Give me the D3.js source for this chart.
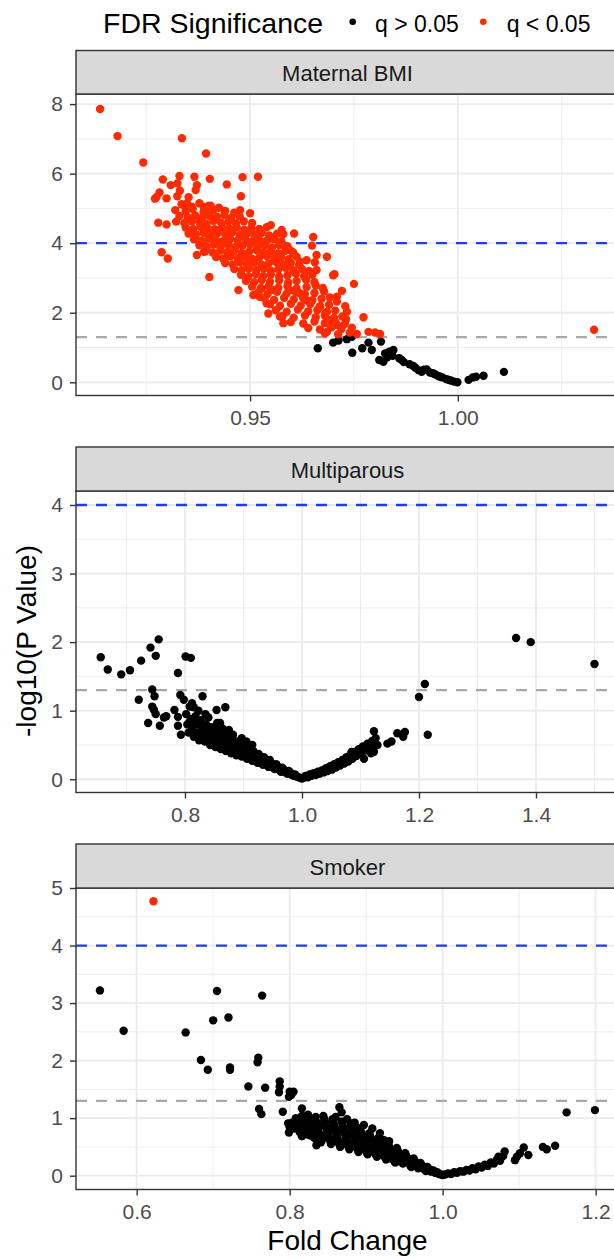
<!DOCTYPE html>
<html><head><meta charset="utf-8">
<script src="https://cdn.jsdelivr.net/npm/d3@7"></script>
<style>body{margin:0;background:#fff}svg{display:block}text{font-family:"Liberation Sans",Arial,Helvetica,sans-serif}</style>
</head><body><svg id="c" width="614" height="1259"></svg>
<script>
// ---------------- DATA ----------------
const facetNames = ["Maternal BMI", "Multiparous", "Smoker"];
const legendTitle = "FDR Significance";
const legendLabels = ["q > 0.05", "q < 0.05"];
const xTitle = "Fold Change";
const yTitle = "-log10(P Value)";
const thresholdBlue = 4;
const thresholdGrey = 1.3;

const bmiXTicks = [0.95, 1.00];
const bmiXMinor = [0.925, 0.975, 1.025];
const bmiYTicks = [0, 2, 4, 6, 8];
const bmiYMinor = [1, 3, 5, 7];
const multiXTicks = [0.8, 1.0, 1.2, 1.4];
const multiXMinor = [0.7, 0.9, 1.1, 1.3, 1.5];
const multiYTicks = [0, 1, 2, 3, 4];
const multiYMinor = [0.5, 1.5, 2.5, 3.5];
const smokeXTicks = [0.6, 0.8, 1.0, 1.2];
const smokeXMinor = [0.7, 0.9, 1.1];
const smokeYTicks = [0, 1, 2, 3, 4, 5];
const smokeYMinor = [0.5, 1.5, 2.5, 3.5, 4.5];

const bmiRed = [
[0.9139,7.86],[0.9181,7.08],[0.9336,7.02],[0.9243,6.32],[0.9394,6.58],
[0.9290,5.83],[0.9330,5.93],[0.9366,5.91],[0.9403,5.85],[0.9482,5.90],[0.9519,5.91],[0.9444,5.69],
[0.9309,5.67],[0.9325,5.72],[0.9372,5.67],[0.9369,5.53],[0.9282,5.46],[0.9275,5.33],[0.9271,5.28],[0.9299,5.29],
[0.9331,5.51],[0.9325,5.35],[0.9352,5.32],[0.9478,5.35],[0.9476,4.95],[0.9500,4.86],
[0.9341,5.09],[0.9360,5.05],[0.9348,5.14],[0.9388,5.05],[0.9400,5.07],[0.9393,4.92],
[0.9279,4.59],[0.9299,4.54],[0.9287,3.74],[0.9302,3.56],[0.9372,3.66],[0.9389,3.75],[0.9402,3.03],
[0.9550,4.52],[0.9551,4.14],[0.9576,4.38],[0.9580,4.26],[0.9606,4.28],[0.9652,4.18],[0.9649,3.93],
[0.9660,3.66],[0.9656,3.45],[0.9660,3.23],[0.9685,3.61],[0.9703,3.11],[0.9700,3.08],
[0.9620,3.47],[0.9636,3.51],[0.9604,3.71],[0.9596,3.80],[0.9580,3.95],
[0.9750,2.83],[0.9721,2.63],[0.9709,2.46],[0.9709,2.32],[0.9729,2.19],[0.9733,2.03],[0.9731,1.81],[0.9710,1.65],
[0.9773,1.87],[0.9757,1.39],[0.9785,1.45],[0.9801,1.43],[0.9813,1.39],
[0.9685,1.45],[0.9697,1.60],[0.9689,1.79],[0.9681,1.98],[0.9669,2.17],
[0.9472,2.65],[0.9508,2.51],[0.9523,2.46],[0.9540,2.27],[0.9544,1.98],[0.9572,1.89],[0.9580,1.70],
[0.9528,2.70],[0.9556,2.65],[0.9596,2.65],[0.9620,2.56],[0.9636,2.36],
[0.9335,5.12],[0.9352,5.06],[0.9378,5.15],[0.9405,5.08],[0.9425,5.02],
[0.9320,4.95],[0.9345,4.92],[0.9362,4.98],[0.9388,4.90],[0.9412,4.96],[0.9440,4.93],[0.9462,4.88],
[0.9330,4.78],[0.9350,4.75],[0.9368,4.80],[0.9385,4.74],[0.9402,4.79],[0.9420,4.76],[0.9438,4.81],[0.9455,4.73],[0.9475,4.77],
[0.9322,4.62],[0.9342,4.58],[0.9360,4.63],[0.9378,4.60],[0.9395,4.56],[0.9412,4.64],[0.9430,4.59],[0.9448,4.62],[0.9466,4.57],[0.9485,4.63],[0.9505,4.58],
[0.9345,4.45],[0.9363,4.41],[0.9381,4.47],[0.9398,4.43],[0.9415,4.40],[0.9433,4.46],[0.9450,4.42],[0.9468,4.45],[0.9486,4.39],[0.9503,4.44],[0.9522,4.41],[0.9540,4.46],
[0.9352,4.28],[0.9370,4.25],[0.9388,4.30],[0.9405,4.24],[0.9422,4.29],[0.9440,4.26],[0.9457,4.31],[0.9475,4.23],[0.9492,4.28],[0.9510,4.25],[0.9528,4.30],[0.9546,4.22],[0.9565,4.27],
[0.9365,4.11],[0.9383,4.07],[0.9400,4.13],[0.9418,4.09],[0.9435,4.06],[0.9452,4.12],[0.9470,4.08],[0.9488,4.14],[0.9505,4.05],[0.9522,4.10],[0.9540,4.07],[0.9558,4.12],[0.9575,4.06],
[0.9378,3.94],[0.9396,3.90],[0.9413,3.96],[0.9430,3.91],[0.9448,3.95],[0.9465,3.89],[0.9482,3.93],[0.9500,3.97],[0.9518,3.90],[0.9535,3.94],[0.9553,3.88],[0.9570,3.95],[0.9590,3.91],
[0.9392,3.77],[0.9410,3.73],[0.9428,3.79],[0.9445,3.74],[0.9462,3.78],[0.9480,3.72],[0.9498,3.76],[0.9515,3.80],[0.9532,3.73],[0.9550,3.77],[0.9568,3.71],[0.9585,3.78],[0.9603,3.74],
[0.9418,3.60],[0.9435,3.56],[0.9452,3.62],[0.9470,3.57],[0.9488,3.61],[0.9505,3.55],[0.9522,3.59],[0.9540,3.63],[0.9558,3.56],[0.9575,3.60],[0.9593,3.54],[0.9612,3.61],
[0.9440,3.43],[0.9458,3.39],[0.9475,3.45],[0.9492,3.40],[0.9510,3.44],[0.9528,3.38],[0.9545,3.42],[0.9563,3.46],[0.9580,3.39],[0.9598,3.43],[0.9618,3.37],
[0.9462,3.26],[0.9480,3.22],[0.9497,3.28],[0.9515,3.23],[0.9533,3.27],[0.9550,3.21],[0.9568,3.25],[0.9586,3.29],[0.9604,3.22],[0.9625,3.26],[0.9642,3.20],
[0.9478,3.09],[0.9496,3.05],[0.9514,3.11],[0.9532,3.06],[0.9550,3.10],[0.9570,3.04],[0.9590,3.08],[0.9610,3.12],[0.9630,3.05],[0.9650,3.09],
[0.9490,2.92],[0.9510,2.88],[0.9528,2.94],[0.9548,2.89],[0.9570,2.93],[0.9592,2.87],[0.9612,2.91],[0.9635,2.95],[0.9655,2.88],
[0.9505,2.75],[0.9526,2.71],[0.9545,2.77],[0.9568,2.72],[0.9590,2.76],[0.9612,2.70],[0.9636,2.74],[0.9658,2.78],[0.9675,2.71],
[0.9520,2.58],[0.9542,2.54],[0.9565,2.60],[0.9588,2.55],[0.9610,2.59],[0.9632,2.53],[0.9655,2.57],[0.9678,2.61],
[0.9535,2.41],[0.9558,2.37],[0.9582,2.43],[0.9605,2.38],[0.9628,2.42],[0.9650,2.36],[0.9672,2.40],[0.9692,2.44],
[0.9548,2.24],[0.9572,2.20],[0.9598,2.26],[0.9622,2.21],[0.9645,2.25],[0.9668,2.19],[0.9690,2.23],
[0.9562,2.07],[0.9588,2.03],[0.9615,2.09],[0.9640,2.04],[0.9662,2.08],[0.9685,2.02],[0.9705,2.06],
[0.9578,1.90],[0.9605,1.86],[0.9632,1.92],[0.9658,1.87],[0.9680,1.91],[0.9702,1.85],[0.9722,1.89],
[0.9598,1.73],[0.9628,1.69],[0.9655,1.75],[0.9680,1.70],[0.9705,1.74],[0.9728,1.68],
[0.9640,1.56],[0.9668,1.52],[0.9695,1.58],[0.9720,1.53],[0.9745,1.57],
[0.9680,1.41],[0.9712,1.38],[0.9740,1.43],
[1.0328,1.51]
];
const bmiBlack = [
[0.9663,0.98],[0.9700,1.14],[0.9713,1.20],[0.9733,1.24],[0.9745,1.31],[0.9746,0.85],[0.9770,0.98],
[0.9785,1.14],[0.9793,0.93],[0.9815,1.17],[0.9811,0.64],[0.9821,0.59],[0.9825,0.83],[0.9835,0.88],
[0.9845,0.93],[0.9843,0.76],[0.9859,0.69],[0.9865,0.64],[0.9884,0.52],[0.9893,0.47],[0.9905,0.35],
[0.9913,0.30],[0.9925,0.37],[0.9933,0.28],[0.9945,0.23],[0.9953,0.18],[0.9963,0.14],[0.9973,0.09],
[0.9983,0.05],[0.9991,0.02],[0.9999,0.00],[1.0026,0.07],[1.0036,0.14],[1.0044,0.16],[1.0062,0.19],
[1.0111,0.30],[0.9830,0.72],[0.9870,0.58],[0.9898,0.42],[0.9918,0.36],[0.9940,0.26],[0.9958,0.16],[0.9978,0.07]
];

const multiBlack = [
[0.656,1.78],[0.668,1.60],[0.691,1.53],[0.706,1.59],[0.725,1.73],[0.741,1.92],[0.750,1.80],[0.755,2.04],
[0.788,1.55],[0.801,1.79],[0.810,1.77],[0.744,1.31],[0.748,1.21],[0.721,1.16],[0.737,0.82],
[0.744,1.06],[0.747,1.01],[0.750,0.95],[0.757,0.78],[0.764,0.90],[0.768,0.92],
[0.792,1.23],[0.798,1.16],[0.812,1.11],[0.808,1.06],[0.830,1.21],[0.854,1.01],[0.869,1.05],
[0.782,1.01],[0.788,0.91],[0.793,0.65],[0.788,0.78],[0.855,0.82],[0.864,0.74],[0.897,0.60],
[0.802,0.95],[0.804,0.80],[0.806,0.68],[0.810,0.88],[0.812,0.74],[0.815,0.62],[0.818,0.92],[0.820,0.80],
[0.822,0.68],[0.824,0.57],[0.827,0.86],[0.829,0.74],[0.831,0.63],[0.834,0.55],[0.836,0.80],[0.838,0.70],
[0.840,0.60],[0.843,0.50],[0.845,0.76],[0.847,0.66],[0.849,0.56],[0.852,0.47],[0.854,0.72],[0.856,0.62],
[0.858,0.53],[0.861,0.44],[0.863,0.68],[0.865,0.58],[0.867,0.49],[0.870,0.41],[0.872,0.63],[0.874,0.54],
[0.876,0.46],[0.879,0.38],[0.881,0.59],[0.883,0.50],[0.885,0.43],[0.888,0.35],[0.890,0.55],[0.892,0.47],
[0.894,0.40],[0.897,0.33],[0.899,0.50],[0.901,0.43],[0.903,0.36],[0.906,0.30],[0.908,0.46],[0.910,0.39],
[0.912,0.33],[0.915,0.27],[0.917,0.41],[0.919,0.35],[0.921,0.29],[0.924,0.24],[0.926,0.37],[0.928,0.31],
[0.930,0.26],[0.933,0.21],[0.935,0.32],[0.937,0.27],[0.940,0.22],[0.943,0.18],[0.945,0.28],[0.948,0.23],
[0.950,0.18],[0.953,0.15],[0.956,0.22],[0.958,0.18],[0.961,0.14],[0.964,0.11],[0.966,0.17],[0.969,0.13],
[0.972,0.10],[0.975,0.08],[0.977,0.12],[0.980,0.09],[0.983,0.06],[0.986,0.05],[0.988,0.07],[0.991,0.04],
[0.994,0.03],[0.997,0.02],[1.000,0.01],
[0.808,0.84],[0.813,0.70],[0.819,0.86],[0.823,0.62],[0.828,0.80],[0.833,0.58],[0.837,0.75],[0.842,0.55],
[0.846,0.71],[0.851,0.52],[0.855,0.67],[0.860,0.49],[0.864,0.63],[0.869,0.45],[0.873,0.58],[0.878,0.42],
[0.882,0.54],[0.887,0.39],[0.891,0.51],[0.896,0.36],[0.900,0.46],[0.905,0.33],[0.909,0.42],[0.914,0.30],
[0.918,0.38],[0.923,0.26],[0.927,0.34],[0.932,0.23],[0.936,0.29],[0.941,0.20],[0.946,0.25],[0.952,0.17],
[0.957,0.20],[0.963,0.13],[0.968,0.15],[0.974,0.10],[0.979,0.11],[0.985,0.07],
[0.860,0.82],[0.875,0.72],[0.882,0.65],[0.905,0.55],[0.915,0.50],[0.840,0.90],[0.835,0.95],[0.823,1.00],[0.815,1.05],
[1.003,0.02],[1.006,0.05],[1.010,0.03],[1.013,0.07],[1.016,0.05],[1.020,0.09],[1.023,0.06],[1.027,0.11],
[1.030,0.08],[1.034,0.13],[1.037,0.10],[1.041,0.16],[1.044,0.12],[1.048,0.19],[1.051,0.14],[1.055,0.22],
[1.058,0.17],[1.062,0.25],[1.065,0.20],[1.069,0.28],[1.072,0.23],[1.076,0.32],[1.079,0.26],[1.083,0.36],
[1.086,0.30],[1.090,0.40],[1.093,0.34],[1.097,0.44],[1.100,0.38],[1.104,0.48],[1.108,0.42],[1.112,0.52],
[1.116,0.46],[1.120,0.56],[1.124,0.50],[1.085,0.40],[1.106,0.30],[1.118,0.38],
[1.018,0.07],[1.032,0.11],[1.046,0.15],[1.060,0.21],[1.074,0.27],[1.088,0.35],[1.102,0.43],[1.114,0.49],
[1.123,0.70],[1.126,0.60],[1.129,0.50],[1.123,0.40],[1.146,0.52],[1.153,0.55],[1.163,0.67],[1.176,0.69],[1.173,0.62],
[1.200,1.20],[1.210,1.39],[1.215,0.65],[1.366,2.06],[1.391,2.00],[1.500,1.68]
];

const smokeRed = [[0.622,4.77]];
const smokeBlack = [
[0.552,3.22],[0.583,2.52],[0.664,2.49],[0.684,2.01],[0.693,1.84],[0.700,2.70],[0.705,3.21],[0.720,2.75],
[0.722,1.88],[0.722,1.84],[0.746,1.55],[0.764,3.13],[0.759,2.05],[0.758,1.97],[0.768,1.53],[0.760,1.16],
[0.763,1.07],[0.787,1.64],[0.787,1.55],[0.786,1.45],[0.800,1.46],[0.802,1.40],[0.805,1.46],[0.799,1.37],
[0.791,1.11],[0.798,0.91],[0.799,0.75],[0.816,1.17],[0.818,1.03],[0.816,0.69],[0.824,0.74],[0.835,0.53],
[0.865,1.19],[0.868,1.10],[0.923,0.62],[0.881,0.91],[0.891,0.82],
[0.803,0.92],[0.806,0.82],[0.808,1.00],[0.811,0.88],[0.813,0.76],[0.816,1.04],[0.818,0.94],[0.820,0.84],
[0.822,0.72],[0.824,1.06],[0.826,0.96],[0.828,0.86],[0.830,0.76],[0.832,0.66],[0.834,1.02],[0.836,0.92],
[0.838,0.82],[0.840,0.72],[0.842,0.62],[0.844,1.04],[0.846,0.94],[0.848,0.84],[0.850,0.74],[0.852,0.64],
[0.854,0.55],[0.856,0.98],[0.858,0.88],[0.860,0.78],[0.862,0.68],[0.864,0.58],[0.866,0.50],[0.868,0.94],
[0.870,0.84],[0.872,0.74],[0.874,0.64],[0.876,0.54],[0.878,0.46],[0.880,0.88],[0.882,0.78],[0.884,0.68],
[0.886,0.58],[0.888,0.49],[0.890,0.41],[0.892,0.82],[0.894,0.72],[0.896,0.62],[0.898,0.53],[0.900,0.44],
[0.902,0.37],[0.904,0.74],[0.906,0.65],[0.908,0.56],[0.910,0.47],[0.912,0.39],[0.914,0.33],[0.916,0.66],
[0.918,0.57],[0.920,0.49],[0.922,0.41],[0.924,0.34],[0.926,0.28],[0.928,0.58],[0.930,0.50],[0.932,0.42],
[0.934,0.35],[0.936,0.28],[0.938,0.23],[0.940,0.48],[0.942,0.41],[0.944,0.34],[0.946,0.27],[0.948,0.21],
[0.951,0.39],[0.953,0.32],[0.955,0.26],[0.957,0.20],[0.959,0.15],[0.962,0.30],[0.964,0.24],[0.966,0.18],
[0.968,0.13],[0.971,0.22],[0.973,0.17],[0.975,0.12],[0.978,0.08],[0.980,0.15],[0.983,0.11],[0.985,0.07],
[0.988,0.09],[0.990,0.05],[0.993,0.06],[0.995,0.03],[0.998,0.02],[1.000,0.01],
[0.805,0.87],[0.809,0.95],[0.812,0.82],[0.815,0.99],[0.817,0.89],[0.821,0.78],[0.823,0.99],[0.825,0.90],
[0.827,0.80],[0.829,0.70],[0.833,0.97],[0.835,0.87],[0.837,0.77],[0.839,0.67],[0.841,0.58],[0.845,0.99],
[0.847,0.89],[0.849,0.79],[0.851,0.69],[0.853,0.60],[0.857,0.93],[0.859,0.83],[0.861,0.73],[0.863,0.63],
[0.865,0.54],[0.869,0.89],[0.871,0.79],[0.873,0.69],[0.875,0.59],[0.877,0.50],[0.881,0.83],[0.883,0.73],
[0.885,0.63],[0.887,0.53],[0.889,0.45],[0.893,0.77],[0.895,0.67],[0.897,0.57],[0.899,0.48],[0.901,0.40],
[0.905,0.70],[0.907,0.60],[0.909,0.51],[0.911,0.43],[0.913,0.36],[0.917,0.61],[0.919,0.53],[0.921,0.45],
[0.923,0.37],[0.925,0.31],[0.929,0.54],[0.931,0.46],[0.933,0.38],[0.935,0.31],[0.937,0.25],[0.941,0.44],
[0.943,0.37],[0.945,0.30],[0.947,0.24],[0.952,0.35],[0.954,0.29],[0.956,0.23],[0.958,0.17],[0.963,0.27],
[0.965,0.21],[0.967,0.15],[0.972,0.19],[0.974,0.14],[0.979,0.12],[0.984,0.09],
[0.807,0.90],[0.814,0.85],[0.819,0.97],[0.826,0.83],[0.831,0.93],[0.836,0.72],[0.843,0.88],[0.848,0.67],
[0.855,0.83],[0.860,0.61],[0.867,0.80],[0.872,0.56],[0.879,0.74],[0.884,0.52],[0.891,0.66],[0.896,0.47],
[0.903,0.58],[0.908,0.42],[0.915,0.50],[0.920,0.36],[0.927,0.43],[0.932,0.30],[0.939,0.36],[0.944,0.25],
[0.950,0.28],[0.961,0.21],[0.970,0.16],[0.977,0.11],
[0.800,0.84],[0.820,1.02],[0.860,1.02],[0.875,0.98],[0.885,0.92],[0.897,0.88],[0.908,0.82],[0.918,0.74],
[0.930,0.60],[0.816,0.69],[0.827,0.70],
[1.003,0.02],[1.007,0.04],[1.011,0.03],[1.015,0.06],[1.019,0.05],[1.023,0.08],[1.027,0.07],[1.031,0.10],
[1.035,0.09],[1.039,0.13],[1.043,0.11],[1.047,0.16],[1.051,0.14],[1.055,0.19],[1.059,0.17],[1.063,0.23],
[1.067,0.21],[1.071,0.28],[1.075,0.26],[1.079,0.34],[1.081,0.42],[1.073,0.33],
[1.0945,0.27],[1.097,0.33],[1.106,0.49],[1.112,0.36],[1.101,0.39],[1.131,0.50],[1.136,0.46],[1.147,0.52],
[1.162,1.10],[1.199,1.14]
];

// ---------------- LAYOUT ----------------
const L = 76, R = 619;
const panels = [
  {name: facetNames[0], stripTop: 50.5, top: 94, bottom: 395.5, xDom: [0.9081, 1.0388], yDom: [-0.38, 8.29],
   xt: bmiXTicks, xm: bmiXMinor, yt: bmiYTicks, ym: bmiYMinor, fmt: d3.format(".2f"), black: bmiBlack, red: bmiRed},
  {name: facetNames[1], stripTop: 447, top: 491, bottom: 792.5, xDom: [0.6137, 1.5419], yDom: [-0.193, 4.204],
   xt: multiXTicks, xm: multiXMinor, yt: multiYTicks, ym: multiYMinor, fmt: d3.format(".1f"), black: multiBlack, red: []},
  {name: facetNames[2], stripTop: 844, top: 888, bottom: 1189.5, xDom: [0.5207, 1.2305], yDom: [-0.24, 5.0],
   xt: smokeXTicks, xm: smokeXMinor, yt: smokeYTicks, ym: smokeYMinor, fmt: d3.format(".1f"), black: smokeBlack, red: smokeRed}
];
const RED = "#ff2a00", BLACK = "#000000";
const PR = 4.2;
const svg = d3.select("#c");

panels.forEach((p, i) => {
  const x = d3.scaleLinear().domain(p.xDom).range([L, R]);
  const y = d3.scaleLinear().domain(p.yDom).range([p.bottom, p.top]);
  const g = svg.append("g");
  const clipId = "clip" + i;
  svg.append("clipPath").attr("id", clipId).append("rect")
    .attr("x", L).attr("y", p.top).attr("width", R - L).attr("height", p.bottom - p.top);
  const inner = g.append("g").attr("clip-path", `url(#${clipId})`);
  inner.selectAll(".xm").data(p.xm).join("line")
    .attr("x1", d => x(d)).attr("x2", d => x(d)).attr("y1", p.top).attr("y2", p.bottom)
    .attr("stroke", "#ebebeb").attr("stroke-width", 0.9);
  inner.selectAll(".ym").data(p.ym).join("line")
    .attr("y1", d => y(d)).attr("y2", d => y(d)).attr("x1", L).attr("x2", R)
    .attr("stroke", "#ebebeb").attr("stroke-width", 0.9);
  inner.selectAll(".xg").data(p.xt).join("line")
    .attr("x1", d => x(d)).attr("x2", d => x(d)).attr("y1", p.top).attr("y2", p.bottom)
    .attr("stroke", "#ebebeb").attr("stroke-width", 1.8);
  inner.selectAll(".yg").data(p.yt).join("line")
    .attr("y1", d => y(d)).attr("y2", d => y(d)).attr("x1", L).attr("x2", R)
    .attr("stroke", "#ebebeb").attr("stroke-width", 1.8);
  inner.append("line").attr("x1", L).attr("x2", R).attr("y1", y(thresholdBlue)).attr("y2", y(thresholdBlue))
    .attr("stroke", "#1a3cff").attr("stroke-width", 2.3).attr("stroke-dasharray", "11,9");
  inner.append("line").attr("x1", L).attr("x2", R).attr("y1", y(thresholdGrey)).attr("y2", y(thresholdGrey))
    .attr("stroke", "#a9a9a9").attr("stroke-width", 2.1).attr("stroke-dasharray", "11,9");
  inner.selectAll(".pb").data(p.black).join("circle")
    .attr("cx", d => x(d[0])).attr("cy", d => y(d[1])).attr("r", PR).attr("fill", BLACK);
  inner.selectAll(".pr").data(p.red).join("circle")
    .attr("cx", d => x(d[0])).attr("cy", d => y(d[1])).attr("r", PR).attr("fill", RED);
  g.append("rect").attr("x", L).attr("y", p.top).attr("width", R - L).attr("height", p.bottom - p.top)
    .attr("fill", "none").attr("stroke", "#333333").attr("stroke-width", 1.4);
  g.append("rect").attr("x", L).attr("y", p.stripTop).attr("width", R - L).attr("height", p.top - p.stripTop)
    .attr("fill", "#d9d9d9").attr("stroke", "#333333").attr("stroke-width", 1.4);
  g.append("text").attr("x", (L + R) / 2).attr("y", (p.stripTop + p.top) / 2 + 8.5)
    .attr("text-anchor", "middle").attr("font-size", 22).attr("fill", "#1a1a1a").text(p.name);
  const ax = g.append("g").attr("transform", `translate(0,${p.bottom})`)
    .call(d3.axisBottom(x).tickValues(p.xt).tickFormat(p.fmt).tickSize(6).tickPadding(9));
  const ay = g.append("g").attr("transform", `translate(${L},0)`)
    .call(d3.axisLeft(y).tickValues(p.yt).tickFormat(d3.format("d")).tickSize(6).tickPadding(7));
  [ax, ay].forEach(a => {
    a.select(".domain").remove();
    a.selectAll(".tick line").attr("stroke", "#333333").attr("stroke-width", 1.4);
    a.selectAll(".tick text").attr("fill", "#4d4d4d").attr("font-size", 21)
      .attr("font-family", '"Liberation Sans",Arial,sans-serif');
  });
});

svg.append("text").attr("x", (L + R) / 2).attr("y", 1250).attr("text-anchor", "middle")
  .attr("font-size", 28).attr("fill", "#000").text(xTitle);
svg.append("text").attr("transform", "translate(35.5,641) rotate(-90)").attr("text-anchor", "middle")
  .attr("font-size", 28).attr("fill", "#000").text(yTitle);

const lg = svg.append("g");
lg.append("text").attr("x", 103).attr("y", 33).attr("font-size", 28.5).attr("fill", "#000").text(legendTitle);
const legendItems = [
  {label: legendLabels[0], color: BLACK, cx: 352.7, tx: 375},
  {label: legendLabels[1], color: RED, cx: 483.3, tx: 506.7}
];
legendItems.forEach(it => {
  lg.append("circle").attr("cx", it.cx).attr("cy", 21.7).attr("r", 3.3).attr("fill", it.color);
  lg.append("text").attr("x", it.tx).attr("y", 32).attr("font-size", 23).attr("fill", "#000").text(it.label);
});
</script></body></html>
